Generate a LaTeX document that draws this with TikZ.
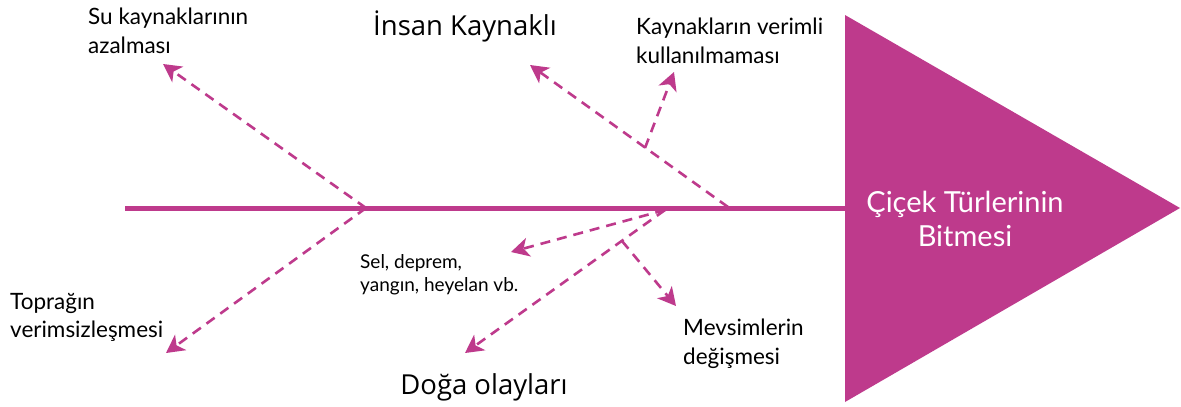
\documentclass[tikz,border=0pt]{standalone}
\usepackage{fontspec}
\setmainfont{Lato}
\newfontfamily\headfont{Open Sans}
\usetikzlibrary{arrows.meta}
\definecolor{mag}{RGB}{190,58,140}
\begin{document}
\begin{tikzpicture}[x=1pt,y=-1pt,
  spine/.style={mag, line width=5pt},
  darrow/.style={mag, line width=2.6pt, dash pattern=on 10pt off 7pt,
     -{Stealth[length=18pt,width=19pt,inset=5pt]}},
  lbl/.style={inner sep=0pt, align=left, font=\fontsize{22.5}{28.5}\selectfont},
  slbl/.style={inner sep=0pt, align=left, font=\fontsize{19}{23}\selectfont},
  head/.style={inner sep=0pt, font=\headfont\fontsize{27.5}{32}\selectfont},
  eff/.style={inner sep=0pt, align=center, text=white, font=\fontsize{29}{34}\selectfont}]
\useasboundingbox (0,0) rectangle (1181,407);
\fill[white] (0,0) rectangle (1181,407);
% head triangle
\coordinate (triT) at (845,15);
\coordinate (triB) at (845,402);
\coordinate (triP) at (1180,208);
\fill[mag] (triT) -- (triP) -- (triB) -- cycle;
% spine
\coordinate (spineL) at (125,208);
\coordinate (spineR) at (846,208);
\draw[spine] (spineL) -- (spineR);
% arrow coordinates
\coordinate (a1s) at (366,208);
\coordinate (a1e) at (163,64);
\coordinate (a2e) at (166,353);
\coordinate (a3s) at (728,207);
\coordinate (a3e) at (530,65);
\coordinate (a4s) at (645,148);
\coordinate (a4e) at (674,72);
\coordinate (a5s) at (665,210);
\coordinate (a5e) at (511,252);
\coordinate (a6e) at (465,353);
\coordinate (a7s) at (622,241);
\coordinate (a7e) at (676,306);
\draw[darrow] (a1s) -- (a1e);
\draw[darrow] (a1s) -- (a2e);
\draw[darrow] (a3s) -- (a3e);
\draw[darrow] (a4s) -- (a4e);
\draw[darrow] (a5s) -- (a5e);
\draw[darrow] (a5s) -- (a6e);
\draw[darrow] (a7s) -- (a7e);
% labels
\node[lbl, anchor=north west] (su) at (88,8) {Su kaynaklarının\\azalması};
\node[head, anchor=base] (insan) at (465,35) {İnsan Kaynaklı};
\node[lbl, anchor=north west] (kv) at (636,18) {Kaynakların verimli\\kullanılmaması};
\node[slbl, anchor=north west] (sel) at (360,254) {Sel, deprem,\\yangın, heyelan vb.};
\node[lbl, anchor=north west] (top) at (10,293) {Toprağın\\verimsizleşmesi};
\node[lbl, anchor=north west] (mev) at (683,319) {Mevsimlerin\\değişmesi};
\node[head, anchor=base] (doga) at (484,394) {Doğa olayları};
\node[eff, anchor=north] (cicek) at (965,191) {Çiçek Türlerinin\\Bitmesi};
\end{tikzpicture}
\end{document}
